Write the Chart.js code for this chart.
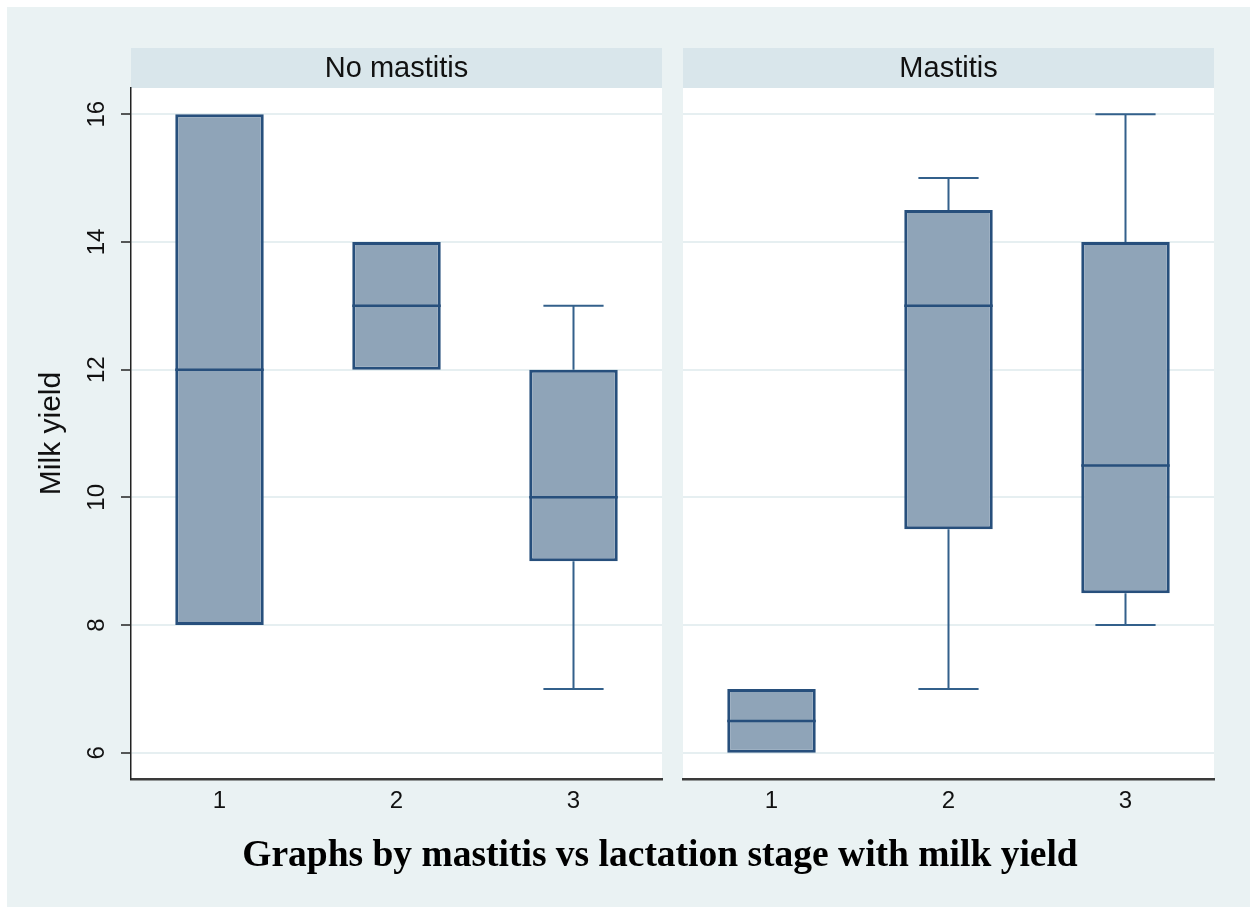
<!DOCTYPE html>
<html><head><meta charset="utf-8">
<script src="https://cdn.jsdelivr.net/npm/chart.js@4/dist/chart.umd.min.js"></script>
<style>
html,body{margin:0;padding:0;background:#fff;}
#page{position:relative;width:1253px;height:911px;overflow:hidden;}
#bg{position:absolute;left:7px;top:7px;width:1243px;height:900px;background:#eaf2f3;}
.panel{position:absolute;top:0;height:911px;}
#p1{left:0;width:672px;}
#p2{left:672px;width:581px;}
#note{position:absolute;left:160px;width:1000px;top:835px;text-align:center;font:bold 37.5px "Liberation Serif","Times New Roman",serif;line-height:37.5px;color:#000;white-space:nowrap;}
</style></head>
<body><div id="page"><div id="bg"></div>
<div class="panel" id="p1"><canvas id="c1"></canvas></div>
<div class="panel" id="p2"><canvas id="c2"></canvas></div>
<div id="note">Graphs by mastitis vs lactation stage with milk yield</div>
</div>
<script>
// ---- data ----
const stages = ['1', '2', '3'];
const panelTitles = ['No mastitis', 'Mastitis'];
const yTicks = [6, 8, 10, 12, 14, 16];
const yAxisTitle = 'Milk yield';

const noMastMin = [8, 12, 7];
const noMastQ1  = [8, 12, 9];
const noMastMed = [12, 13, 10];
const noMastQ3  = [16, 14, 12];
const noMastMax = [16, 14, 13];

const mastMin = [6, 7, 8];
const mastQ1  = [6, 9.5, 8.5];
const mastMed = [6.5, 13, 10.5];
const mastQ3  = [7, 14.5, 14];
const mastMax = [7, 15, 16];

// ---- style ----
const BOX_FILL = '#8fa4b8';
const BOX_EDGE = '#274f7c';
const WHISK = '#33608b';
const GRID = '#e6eff1';
const HEADER = '#d9e6eb';
const FONT = '"Liberation Sans", Arial, sans-serif';

function makePanel(canvasId, title, lo, q1, med, q3, hi, isLeft, padL, padR) {
  const boxPlugin = {
    id: 'boxextras' + canvasId,
    beforeDraw(chart) {
      const {ctx, chartArea: ca} = chart;
      ctx.save();
      ctx.fillStyle = '#ffffff';
      ctx.fillRect(ca.left, ca.top, ca.right - ca.left, ca.bottom - ca.top);
      ctx.fillStyle = HEADER;
      ctx.fillRect(ca.left, 48, ca.right - ca.left, ca.top - 48);
      ctx.fillStyle = '#111';
      ctx.font = '29px ' + FONT;
      ctx.textAlign = 'center';
      ctx.textBaseline = 'middle';
      ctx.fillText(title, (ca.left + ca.right) / 2, (48 + ca.top) / 2 + 1);
      ctx.restore();
    },
    afterDatasetsDraw(chart) {
      const {ctx} = chart;
      const xs = chart.scales.x, ys = chart.scales.y;
      const band = xs.getPixelForValue(1) - xs.getPixelForValue(0);
      const boxW = band * 0.5, capW = band * 0.34;
      ctx.save();
      for (let i = 0; i < stages.length; i++) {
        const cx = xs.getPixelForValue(i);
        ctx.strokeStyle = WHISK;
        ctx.lineWidth = 2;
        if (hi[i] > q3[i]) {
          ctx.beginPath();
          ctx.moveTo(cx, ys.getPixelForValue(q3[i]));
          ctx.lineTo(cx, ys.getPixelForValue(hi[i]));
          ctx.moveTo(cx - capW / 2, ys.getPixelForValue(hi[i]));
          ctx.lineTo(cx + capW / 2, ys.getPixelForValue(hi[i]));
          ctx.stroke();
        }
        if (lo[i] < q1[i]) {
          ctx.beginPath();
          ctx.moveTo(cx, ys.getPixelForValue(q1[i]));
          ctx.lineTo(cx, ys.getPixelForValue(lo[i]));
          ctx.moveTo(cx - capW / 2, ys.getPixelForValue(lo[i]));
          ctx.lineTo(cx + capW / 2, ys.getPixelForValue(lo[i]));
          ctx.stroke();
        }
        ctx.strokeStyle = BOX_EDGE;
        ctx.lineWidth = 2.5;
        const my = ys.getPixelForValue(med[i]);
        ctx.beginPath();
        ctx.moveTo(cx - boxW / 2, my);
        ctx.lineTo(cx + boxW / 2, my);
        ctx.stroke();
      }
      ctx.restore();
    },
    afterDraw(chart) {
      if (!isLeft) return;
      const {ctx} = chart;
      const ys = chart.scales.y;
      ctx.save();
      ctx.fillStyle = '#111';
      ctx.font = '24px ' + FONT;
      ctx.textAlign = 'center';
      ctx.textBaseline = 'middle';
      yTicks.forEach(v => {
        const y = ys.getPixelForValue(v);
        ctx.save();
        ctx.translate(97, y);
        ctx.rotate(-Math.PI / 2);
        ctx.fillText(String(v), 0, 0);
        ctx.restore();
      });
      ctx.restore();
    }
  };

  return new Chart(document.getElementById(canvasId), {
    type: 'bar',
    data: {
      labels: stages,
      datasets: [{
        data: stages.map((s, i) => [q1[i], q3[i]]),
        backgroundColor: BOX_FILL,
        borderColor: BOX_EDGE,
        borderWidth: 3,
        borderSkipped: false,
        barPercentage: 0.5,
        categoryPercentage: 1
      }]
    },
    options: {
      responsive: true,
      maintainAspectRatio: false,
      animation: false,
      layout: {padding: {top: 88, right: padR, bottom: 0, left: padL}},
      plugins: {legend: {display: false}, tooltip: {enabled: false}, title: {display: false}},
      scales: {
        x: {
          type: 'category',
          offset: true,
          grid: {display: false, drawTicks: false},
          border: {display: true, color: '#3a3a3a', width: 2.5},
          ticks: {font: {size: 24, family: FONT}, color: '#111', padding: 8},
          afterFit(s) { s.height = 132; }
        },
        y: {
          type: 'linear',
          min: 5.59,
          max: 16.41,
          afterBuildTicks(s) { s.ticks = yTicks.map(v => ({value: v})); },
          grid: {color: GRID, lineWidth: 2, tickColor: '#222', tickLength: 10, tickWidth: 1.5, drawTicks: isLeft},
          border: {display: isLeft, color: '#222', width: 1.5},
          ticks: {display: false},
          title: {
            display: isLeft,
            text: yAxisTitle,
            color: '#111',
            font: {size: 30, family: FONT, lineHeight: 1.2},
            padding: {top: 34, bottom: 0}
          },
          afterFit(s) { s.width = isLeft ? 131 : 0; }
        }
      }
    },
    plugins: [boxPlugin]
  });
}

makePanel('c1', panelTitles[0], noMastMin, noMastQ1, noMastMed, noMastQ3, noMastMax, true, 0, 10);
makePanel('c2', panelTitles[1], mastMin, mastQ1, mastMed, mastQ3, mastMax, false, 11, 39);
</script>
</body></html>
